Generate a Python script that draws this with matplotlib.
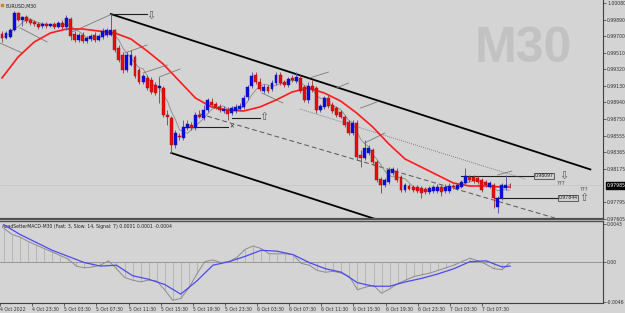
import numpy as np
import pandas as pd
import matplotlib
matplotlib.use('Agg')
import matplotlib.pyplot as plt
from matplotlib.transforms import blended_transform_factory

# EURUSD M30 candles, 4 Oct 20:00 .. 7 Oct 11:00
opens = [0.99724, 0.99678, 0.99689, 0.99770, 0.99965, 0.99884, 0.99919, 0.99884, 0.99861, 0.99839,
         0.99816, 0.99839, 0.99816, 0.99839, 0.99804, 0.99850, 0.99804, 0.99896, 0.99724, 0.99655,
         0.99712, 0.99643, 0.99666, 0.99712, 0.99655, 0.99689, 0.99712, 0.99712, 0.99770, 0.99563,
         0.99483, 0.99310, 0.99368, 0.99460, 0.99310, 0.99173, 0.99219, 0.99196, 0.99138, 0.99104,
         0.99104, 0.98794, 0.98759, 0.98449, 0.98553, 0.98530, 0.98645, 0.98679, 0.98645, 0.98794,
         0.98759, 0.98851, 0.98943, 0.98920, 0.98886, 0.98840, 0.98851, 0.98817, 0.98840, 0.98863,
         0.98886, 0.99000, 0.99127, 0.99253, 0.99173, 0.99069, 0.99115, 0.99092, 0.99161, 0.99253,
         0.99173, 0.99138, 0.99219, 0.99184, 0.99219, 0.99115, 0.98966, 0.99127, 0.99104, 0.98851,
         0.98886, 0.98989, 0.98909, 0.98874, 0.98828, 0.98771, 0.98713, 0.98587, 0.98702, 0.98335,
         0.98300, 0.98358, 0.98392, 0.98254, 0.98059, 0.97990, 0.98025, 0.98128, 0.98151, 0.98082,
         0.97933, 0.97979, 0.97967, 0.97967, 0.97956, 0.97944, 0.97910, 0.97921, 0.97921, 0.97967,
         0.97921, 0.97921, 0.97979, 0.97944, 0.97967, 0.98013, 0.98082, 0.98082, 0.98071, 0.98048,
         0.98025, 0.97967, 0.97990, 0.97738, 0.97841, 0.97956, 0.97995]
highs = [0.99758, 0.99758, 0.99793, 0.99988, 0.99976, 0.99930, 0.99942, 0.99907, 0.99884, 0.99861,
         0.99861, 0.99861, 0.99850, 0.99861, 0.99873, 0.99884, 0.99942, 0.99919, 0.99758, 0.99735,
         0.99747, 0.99701, 0.99724, 0.99747, 0.99724, 0.99793, 0.99793, 0.99953, 0.99781, 0.99597,
         0.99517, 0.99517, 0.99540, 0.99483, 0.99333, 0.99264, 0.99253, 0.99230, 0.99173, 0.99230,
         0.99127, 0.98851, 0.98782, 0.98622, 0.98587, 0.98736, 0.98736, 0.98713, 0.98828, 0.98851,
         0.98909, 0.98989, 0.98989, 0.98943, 0.98920, 0.98897, 0.98886, 0.98897, 0.98920, 0.98932,
         0.99023, 0.99138, 0.99287, 0.99287, 0.99219, 0.99150, 0.99138, 0.99196, 0.99287, 0.99287,
         0.99196, 0.99230, 0.99253, 0.99287, 0.99253, 0.99138, 0.99173, 0.99196, 0.99127, 0.98920,
         0.99012, 0.99023, 0.98943, 0.98897, 0.98851, 0.98794, 0.98736, 0.98736, 0.98736, 0.98392,
         0.98507, 0.98449, 0.98415, 0.98277, 0.98082, 0.98071, 0.98197, 0.98197, 0.98185, 0.98105,
         0.98013, 0.98002, 0.97990, 0.97990, 0.97979, 0.97967, 0.97979, 0.97990, 0.98002, 0.97990,
         0.98002, 0.98013, 0.98002, 0.98013, 0.98048, 0.98185, 0.98105, 0.98105, 0.98094, 0.98071,
         0.98048, 0.98036, 0.98013, 0.97864, 0.98013, 0.98105, 0.98013]
lows = [0.99632, 0.99666, 0.99678, 0.99758, 0.99873, 0.99816, 0.99850, 0.99827, 0.99816, 0.99781,
        0.99793, 0.99793, 0.99804, 0.99781, 0.99793, 0.99781, 0.99770, 0.99655, 0.99632, 0.99632,
        0.99620, 0.99620, 0.99643, 0.99632, 0.99643, 0.99666, 0.99689, 0.99701, 0.99517, 0.99402,
        0.99276, 0.99287, 0.99356, 0.99219, 0.99150, 0.99150, 0.99081, 0.99035, 0.99023, 0.98932,
        0.98771, 0.98679, 0.98358, 0.98415, 0.98507, 0.98507, 0.98622, 0.98622, 0.98622, 0.98759,
        0.98736, 0.98828, 0.98886, 0.98863, 0.98828, 0.98817, 0.98736, 0.98794, 0.98817, 0.98840,
        0.98863, 0.98966, 0.99104, 0.99150, 0.99069, 0.99046, 0.99046, 0.99069, 0.99138, 0.99138,
        0.99115, 0.99115, 0.99173, 0.99161, 0.99046, 0.98943, 0.98932, 0.99058, 0.98817, 0.98828,
        0.98863, 0.98874, 0.98817, 0.98771, 0.98759, 0.98656, 0.98564, 0.98564, 0.98277, 0.98197,
        0.98277, 0.98335, 0.98220, 0.98025, 0.97898, 0.97967, 0.98002, 0.98105, 0.98025, 0.97910,
        0.97910, 0.97933, 0.97910, 0.97898, 0.97841, 0.97887, 0.97887, 0.97898, 0.97898, 0.97864,
        0.97898, 0.97898, 0.97944, 0.97933, 0.97956, 0.98002, 0.98025, 0.98013, 0.98002, 0.97910,
        0.97967, 0.97956, 0.97726, 0.97669, 0.97818, 0.97933, 0.97956]
closes = [0.99678, 0.99735, 0.99770, 0.99965, 0.99884, 0.99919, 0.99873, 0.99850, 0.99839, 0.99804,
          0.99839, 0.99816, 0.99839, 0.99804, 0.99850, 0.99804, 0.99907, 0.99701, 0.99655, 0.99712,
          0.99643, 0.99678, 0.99701, 0.99655, 0.99701, 0.99758, 0.99770, 0.99770, 0.99540, 0.99425,
          0.99310, 0.99483, 0.99483, 0.99241, 0.99173, 0.99241, 0.99104, 0.99058, 0.99046, 0.99127,
          0.98794, 0.98771, 0.98449, 0.98587, 0.98541, 0.98656, 0.98690, 0.98645, 0.98794, 0.98771,
          0.98851, 0.98966, 0.98909, 0.98886, 0.98851, 0.98863, 0.98805, 0.98874, 0.98886, 0.98897,
          0.98989, 0.99115, 0.99241, 0.99173, 0.99092, 0.99115, 0.99069, 0.99161, 0.99253, 0.99161,
          0.99138, 0.99207, 0.99196, 0.99230, 0.99069, 0.98966, 0.99127, 0.99081, 0.98851, 0.98897,
          0.98989, 0.98897, 0.98840, 0.98794, 0.98771, 0.98679, 0.98587, 0.98702, 0.98312, 0.98300,
          0.98415, 0.98415, 0.98254, 0.98048, 0.97990, 0.98048, 0.98162, 0.98174, 0.98048, 0.97933,
          0.97990, 0.97944, 0.97933, 0.97921, 0.97898, 0.97910, 0.97956, 0.97967, 0.97967, 0.97910,
          0.97967, 0.97979, 0.97967, 0.97990, 0.98025, 0.98094, 0.98048, 0.98036, 0.98025, 0.97933,
          0.97990, 0.98013, 0.97841, 0.97841, 0.97990, 0.97990, 0.97985]

# red moving average, read every 4 bars
ma_bars = [0, 4, 8, 12, 16, 20, 24, 28, 32, 36, 40, 44, 48, 52, 56, 60, 64, 68, 72, 76,
           80, 84, 88, 92, 96, 100, 104, 108, 112, 116, 120, 124, 126]
ma_vals = [0.99219, 0.99460, 0.99632, 0.99735, 0.99781, 0.99781, 0.99758, 0.99735, 0.99666, 0.99529,
           0.99379, 0.99184, 0.98989, 0.98886, 0.98851, 0.98840, 0.98886, 0.98966, 0.99058, 0.99104,
           0.99046, 0.98955, 0.98817, 0.98656, 0.98461, 0.98289, 0.98197, 0.98105, 0.98013, 0.97979,
           0.97979, 0.97967, 0.97967]

# MACD panel: main (grey + histogram) every 2 bars, signal (blue) every 4 bars
macd_bars = list(range(0, 127, 2))
macd_main = [0.0038, 0.0031, 0.0028, 0.0023, 0.0019, 0.0015, 0.0011, 0.0007, 0.0003, -0.0005,
             -0.0007, -0.0006, -0.0004, 0.0001, -0.0008, -0.0018, -0.0021, -0.0023, -0.0021, -0.0022,
             -0.0032, -0.0044, -0.0042, -0.0030, -0.0014, 0.0000, 0.0002, -0.0001, 0.0000, 0.0005,
             0.0014, 0.0018, 0.0015, 0.0009, 0.0009, 0.0009, 0.0008, -0.0002, -0.0004, -0.0010,
             -0.0012, -0.0011, -0.0013, -0.0017, -0.0032, -0.0029, -0.0027, -0.0036, -0.0031, -0.0025,
             -0.0021, -0.0017, -0.0015, -0.0013, -0.0010, -0.0007, -0.0004, 0.0000, 0.0004, 0.0001,
             -0.0003, -0.0008, -0.0009, -0.0001]
signal_bars = ma_bars
macd_signal = [0.0042, 0.0031, 0.0022, 0.0013, 0.0006, -0.0001, -0.0005, -0.0004, -0.0016, -0.0020,
               -0.0026, -0.0037, -0.0022, -0.0004, 0.0000, 0.0006, 0.0013, 0.0012, 0.0008, -0.0001,
               -0.0008, -0.0012, -0.0024, -0.0028, -0.0028, -0.0023, -0.0019, -0.0014, -0.0008, 0.0000,
               0.0001, -0.0006, -0.0005]

time_ticks = [-1, 7, 15, 23, 31, 39, 47, 55, 63, 71, 79, 87, 95, 103, 111, 119]
time_labels = ['4 Oct 2022', '4 Oct 23:30', '5 Oct 03:30', '5 Oct 07:30', '5 Oct 11:30',
               '5 Oct 15:30', '5 Oct 19:30', '5 Oct 23:30', '6 Oct 03:30', '6 Oct 07:30',
               '6 Oct 11:30', '6 Oct 15:30', '6 Oct 19:30', '6 Oct 23:30', '7 Oct 03:30',
               '7 Oct 07:30']
price_ticks = [1.00080, 0.99890, 0.99700, 0.99510, 0.99320, 0.99130, 0.98940, 0.98750,
               0.98555, 0.98365, 0.98175, 0.97795, 0.97605]
macd_ticks = [0.0043, 0.0, -0.0046]
macd_tick_labels = ['0.0043', '0.00', '-0.0046']

# drawn objects: (bar0, price0, bar1, price1)
channel = [(27, 0.99953, 146, 0.98169), (42, 0.98358, 100, 0.97489)]
ladder = [(-0.5, 0.99620, 5, 0.99506), (4.5, 0.99793, 11.2, 0.99632), (17.4, 0.99747, 27.3, 0.99953),
          (30.5, 0.99506, 36, 0.99597), (35, 0.99276, 41, 0.99368), (39, 0.99230, 44.2, 0.99322),
          (64.5, 0.99046, 69.7, 0.98932), (76.4, 0.99219, 81, 0.99287), (83, 0.99104, 86, 0.99161),
          (89, 0.98874, 93, 0.98943), (90, 0.98472, 95, 0.98587), (123, 0.98105, 126.5, 0.98151)]
level_lines = [(27, 0.99953, 36, 0.99953), (45, 0.98656, 56, 0.98656), (57, 0.98759, 64, 0.98759),
               (114, 0.98097, 132, 0.98097), (122, 0.97844, 138, 0.97844)]
dashed_line = (49.1, 0.98805, 137.2, 0.97611)
dotted_line = (73.9, 0.98863, 129.8, 0.98059)

BG = '#d4d4d4'
FS = 3.3

fig = plt.figure(figsize=(6.25, 3.13), dpi=100, facecolor=BG)
ax = fig.add_axes([0, 1 - 219 / 313, 603 / 625, 219 / 313], facecolor=BG)
ax2 = fig.add_axes([0, 1 - 303 / 313, 603 / 625, 82 / 313], facecolor=BG)

xlim = (-2 / 4.03, 603 / 4.03 - 2 / 4.03)
x = np.arange(len(opens))
o = np.array(opens); h = np.array(highs); l = np.array(lows); c = np.array(closes)
up = c >= o

# watermark and symbol
ax.text(0.868, 0.775, 'M30', transform=ax.transAxes, ha='center', va='center',
        fontsize=36, fontweight='bold', family='Liberation Sans', color='#c2c2c2', zorder=0)
ax.scatter([0.004], [0.977], transform=ax.transAxes, marker='s', s=3, color='#d08020', zorder=6)
ax.text(0.009, 0.985, 'EURUSD,M30', transform=ax.transAxes, ha='left', va='top',
        fontsize=3.4, color='#202020')

# current price line
ax.axhline(closes[-1], color='#c6c6c6', lw=0.6, zorder=1)

# trend objects
for b0, p0, b1, p1 in channel:
    ax.plot([b0, b1], [p0, p1], color='black', lw=1.3, zorder=2)
for b0, p0, b1, p1 in ladder:
    ax.plot([b0, b1], [p0, p1], color='#7a7a7a', lw=0.6, zorder=2)
for b0, p0, b1, p1 in level_lines:
    ax.plot([b0, b1], [p0, p1], color='#202020', lw=0.8, zorder=2)
ax.plot(dashed_line[::2], dashed_line[1::2], color='#555555', lw=0.7, ls=(0, (5, 3)), zorder=2)
ax.plot(dotted_line[::2], dotted_line[1::2], color='#666666', lw=0.6, ls=(0, (1, 1.5)), zorder=2)

# moving averages
grey_ma = pd.Series(closes).rolling(5, min_periods=1).mean()
ax.plot(x, grey_ma, color='#8a8a8a', lw=0.6, zorder=3)
ax.plot(ma_bars, ma_vals, color='#ff1a1a', lw=1.2, zorder=3)

# candles
wick_col = np.where(up, '#5a5aa8', '#a04848')
body_col = np.where(up, '#0a0aee', '#ee0a0a')
edge_col = np.where(up, '#101080', '#901010')
ax.vlines(x, l, h, colors=wick_col, lw=0.7, zorder=4)
body = np.maximum(np.abs(c - o), 0.00008)
ax.bar(x, body, bottom=np.minimum(o, c), width=0.72, color=body_col,
       edgecolor=edge_col, linewidth=0.3, zorder=5)

# markers / labels
ARW = 8
ax.text(36.8, 0.99930, '\u21e9', ha='center', va='center', fontsize=ARW, color='#5a5a5a')
ax.text(56.9, 0.98656, '\u2715', ha='center', va='center', fontsize=4, color='#202020')
ax.text(64.9, 0.98771, '\u21e7', ha='center', va='center', fontsize=ARW, color='#5a5a5a')
box = dict(boxstyle='square,pad=0.15', facecolor='#d0d0d0', edgecolor='#303030', lw=0.5)
ax.text(134.5, 0.98097, '0.98097', ha='center', va='center', fontsize=FS, color='#202020', bbox=box)
ax.text(139.5, 0.98097, '\u21e9', ha='center', va='center', fontsize=ARW, color='#5a5a5a')
ax.text(138.7, 0.98002, '???', ha='center', va='center', fontsize=FS + 0.6, color='#404040')
ax.text(144.4, 0.97944, '???', ha='center', va='center', fontsize=FS + 0.6, color='#404040')
ax.text(140.4, 0.97844, '0.97844', ha='center', va='center', fontsize=FS, color='#202020', bbox=box)
ax.text(144.4, 0.97844, '\u21e7', ha='center', va='center', fontsize=ARW, color='#5a5a5a')

ax.set_xlim(*xlim)
ax.set_ylim(0.97600, 1.00114)
ax.set_xticks([])
ax.yaxis.tick_right()
ax.set_yticks(price_ticks)
ax.set_yticklabels([f'{v:.5f}' for v in price_ticks])
ax.tick_params(axis='y', length=2, width=0.5, pad=1, labelsize=FS, colors='#303030')
for side in ['top', 'left']:
    ax.spines[side].set_visible(False)
ax.spines['right'].set_color('#404040')
ax.spines['right'].set_linewidth(0.8)
ax.spines['bottom'].set_color('#505050')
ax.spines['bottom'].set_linewidth(1.6)

# current price tag
tr = blended_transform_factory(ax.transAxes, ax.transData)
ax.text(1.006, closes[-1], f'{closes[-1]:.5f}', transform=tr, ha='left', va='center',
        fontsize=FS, color='white', clip_on=False,
        bbox=dict(boxstyle='square,pad=0.12', facecolor='black', edgecolor='black'))

# MACD panel
ax2.axhline(0, color='#8c8c8c', lw=0.6, zorder=1)
ax2.vlines(macd_bars, 0, macd_main, colors='#a8a8a8', lw=0.5, zorder=2)
ax2.plot(macd_bars, macd_main, color='#8c8c8c', lw=0.7, zorder=3)
ax2.plot(signal_bars, macd_signal, color='#4a4af0', lw=0.9, zorder=4)
ax2.text(0.003, 0.96, 'AzadSetterMACD-M30 (Fast: 3, Slow: 14, Signal: 7) 0.0001 0.0001 -0.0004',
         transform=ax2.transAxes, ha='left', va='top', fontsize=FS, color='#202020')
ax2.set_xlim(*xlim)
ax2.set_ylim(-0.00471, 0.00464)
ax2.yaxis.tick_right()
ax2.set_yticks(macd_ticks)
ax2.set_yticklabels(macd_tick_labels)
ax2.tick_params(axis='y', length=2, width=0.5, pad=1, labelsize=FS, colors='#303030')
ax2.set_xticks(time_ticks)
ax2.set_xticklabels(time_labels, ha='left')
ax2.tick_params(axis='x', length=2, width=0.5, pad=1, labelsize=FS, colors='#303030')
ax2.spines['left'].set_visible(False)
ax2.spines['top'].set_color('#505050')
ax2.spines['top'].set_linewidth(1.0)
ax2.spines['right'].set_color('#404040')
ax2.spines['right'].set_linewidth(0.8)
ax2.spines['bottom'].set_color('#404040')
ax2.spines['bottom'].set_linewidth(0.8)

fig.savefig('out.png', dpi=100, facecolor=BG)
